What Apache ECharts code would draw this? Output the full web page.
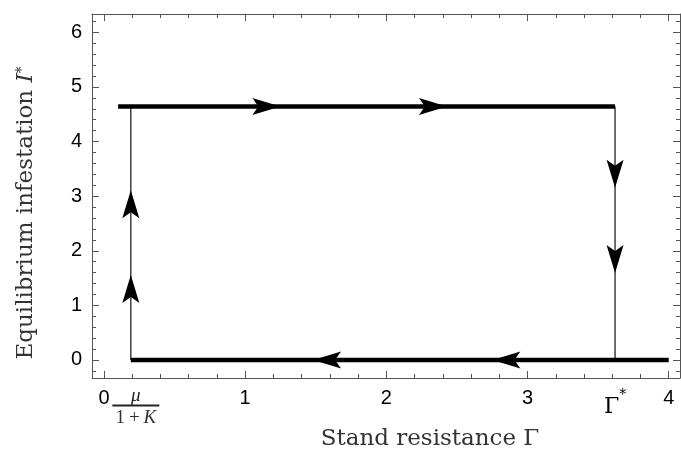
<!DOCTYPE html>
<html>
<head>
<meta charset="utf-8">
<title>Equilibrium infestation</title>
<script src="https://cdn.jsdelivr.net/npm/echarts@6/dist/echarts.min.js"></script>
<style>
  html, body { margin: 0; padding: 0; background: #fff; }
  #chart { width: 681px; height: 460px; }
</style>
</head>
<body>
<div id="chart"></div>
<script>
  // key points of the cycle
  const muK = 0.19        // mu/(1+K)
  const gammaStar = 3.62  // Gamma*
  const iStar = 4.64

  // branches of the cycle (x, y)
  const upperBranch = [[0.1, iStar], [gammaStar, iStar]]
  const lowerBranch = [[muK, 0], [4.0, 0]]
  const leftJump = [[muK, 0], [muK, iStar]]
  const rightJump = [[gammaStar, iStar], [gammaStar, 0]]

  // arrow heads (centre points)
  const arrowsRight = [[1.15, iStar], [2.33, iStar]]
  const arrowsLeft = [[1.58, 0], [2.85, 0]]
  const arrowsUp = [[muK, 1.30], [muK, 2.85]]
  const arrowsDown = [[gammaStar, 3.41], [gammaStar, 1.85]]

  // ticks and labels
  const xMajor = [0, 1, 2, 3, 4]
  const yMajor = [0, 1, 2, 3, 4, 5, 6]
  const xSymbolLabels = [muK, gammaStar]

  const xMin = -0.085, xMax = 4.08
  const yMin = -0.33, yMax = 6.335

  function minorTicks(from, to) {
    let out = []
    for (let i = Math.round(from * 5); i <= Math.round(to * 5); i++) out.push(i / 5)
    return out
  }
  const xMinor = minorTicks(0, 4)
  const yMinor = minorTicks(-0.2, 6.2)

  const frameColor = '#555'
  const serif = 'DejaVu Serif'
  const arrowPath = 'path://M0,0 L28,8.5 L0,17 L6,8.5 Z'

  function frameAxis(pos, min, max, ticks, len, showLine) {
    return {
      type: 'value', position: pos, min: min, max: max,
      axisLine: {show: showLine, onZero: false, lineStyle: {color: frameColor, width: 1}},
      axisTick: {show: true, inside: true, length: len, customValues: ticks,
                 lineStyle: {color: frameColor, width: 1}},
      axisLabel: {show: false},
      splitLine: {show: false}
    }
  }

  let chart = echarts.init(document.getElementById('chart'))

  let xMain = frameAxis('bottom', xMin, xMax, xMajor, 7, true)
  xMain.axisLabel = {
    show: true, customValues: xMajor, margin: 10,
    color: '#000', fontFamily: 'Liberation Sans', fontSize: 20
  }
  xMain.name = 'Stand resistance Γ'
  xMain.nameLocation = 'middle'
  xMain.nameGap = 50
  xMain.nameTextStyle = {fontFamily: serif, fontSize: 23, color: '#333', padding: [0, 0, 0, 88]}

  // minor-tick axis also carries the symbolic labels
  let xMinorAxis = frameAxis('bottom', xMin, xMax, xMinor, 4, false)
  xMinorAxis.axisLabel = {
    show: true, customValues: xSymbolLabels, margin: 10, hideOverlap: false,
    formatter: function (v) {
      if (Math.abs(v - muK) < 1e-6) return '{mu|μ}\n{sp| }{bar| }\n{den|1\u2009+\u2009}{k|K}'
      return '{g|Γ}{s|*}'
    },
    rich: {
      mu: {fontFamily: 'Liberation Serif', fontStyle: 'italic', fontSize: 19, lineHeight: 15, color: '#222', padding: [0, 0, 0, 10]},
      sp: {width: 10, fontSize: 2, lineHeight: 5},
      bar: {backgroundColor: '#222', width: 47, height: 2, fontSize: 2, lineHeight: 5},
      den: {fontFamily: 'Liberation Serif', fontSize: 19, lineHeight: 20, color: '#333', padding: [0, 0, 0, 10]},
      k: {fontFamily: 'Liberation Serif', fontStyle: 'italic', fontSize: 19, lineHeight: 20, color: '#333'},
      g: {fontFamily: serif, fontSize: 22, lineHeight: 30, color: '#000', padding: [8, 0, 0, 0]},
      s: {fontFamily: serif, fontSize: 14, verticalAlign: 'top', lineHeight: 30, color: '#000'}
    }
  }

  let yMain = frameAxis('left', yMin, yMax, yMajor, 7, true)
  yMain.axisLabel = {
    show: true, customValues: yMajor, margin: 10,
    color: '#000', fontFamily: 'Liberation Sans', fontSize: 20
  }
  yMain.name = '{n|Equilibrium infestation }{i|I}{s|*}'
  yMain.nameLocation = 'middle'
  yMain.nameGap = 54
  yMain.nameTextStyle = {
    padding: [0, 34, 0, 0],
    rich: {
      n: {fontFamily: serif, fontSize: 23, color: '#333'},
      i: {fontFamily: serif, fontStyle: 'italic', fontSize: 23, color: '#333'},
      s: {fontFamily: serif, fontSize: 14, color: '#333', verticalAlign: 'top'}
    }
  }

  function thick(data) {
    return {type: 'line', data: data, symbol: 'none', z: 3,
            lineStyle: {color: '#000', width: 4.5}}
  }
  function thin(data) {
    return {type: 'line', data: data, symbol: 'none', z: 2,
            lineStyle: {color: '#222', width: 1.3}}
  }
  function arrows(data, rot) {
    return {type: 'scatter', data: data, symbol: arrowPath, symbolSize: [28, 17],
            symbolRotate: rot, z: 5, itemStyle: {color: '#000', opacity: 1}}
  }

  chart.setOption({
    animation: false,
    backgroundColor: '#fff',
    grid: {left: 92, right: 1, top: 14, bottom: 82, containLabel: false, outerBoundsMode: 'none'},
    xAxis: [
      xMain,
      xMinorAxis,
      frameAxis('top', xMin, xMax, xMajor, 7, true),
      frameAxis('top', xMin, xMax, xMinor, 4, false)
    ],
    yAxis: [
      yMain,
      frameAxis('left', yMin, yMax, yMinor, 4, false),
      frameAxis('right', yMin, yMax, yMajor, 7, true),
      frameAxis('right', yMin, yMax, yMinor, 4, false)
    ],
    series: [
      thin(leftJump),
      thin(rightJump),
      thick(upperBranch),
      thick(lowerBranch),
      arrows(arrowsRight, 0),
      arrows(arrowsLeft, 180),
      arrows(arrowsUp, 90),
      arrows(arrowsDown, -90)
    ]
  })
</script>
</body>
</html>
